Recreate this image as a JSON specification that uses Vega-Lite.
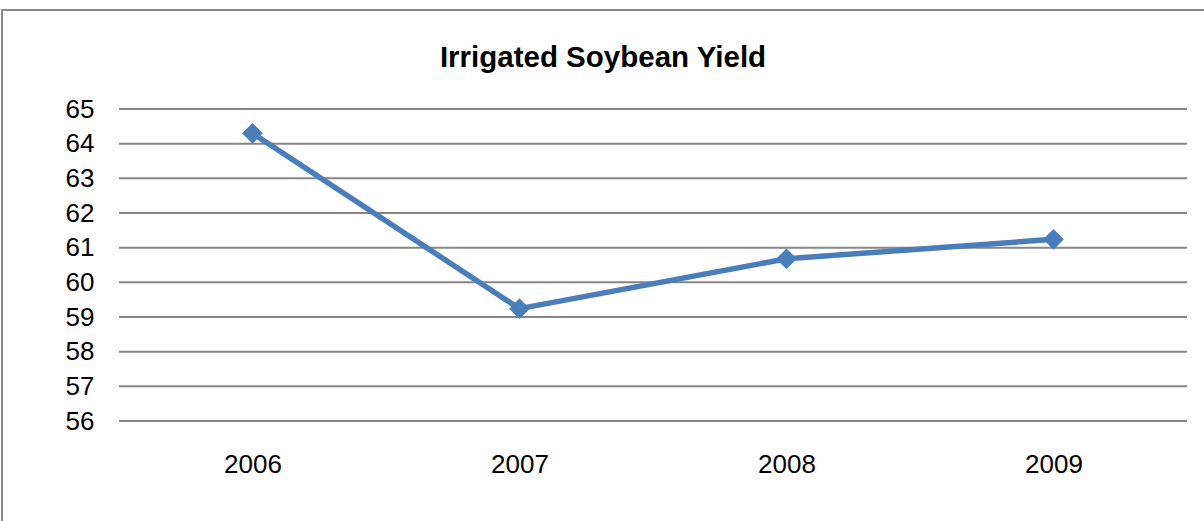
{
  "$schema": "https://vega.github.io/schema/vega-lite/v6.json",
  "width": 1212,
  "height": 520,
  "autosize": {"type": "none"},
  "padding": {"left": 2, "top": 10, "right": 0, "bottom": 0},
  "background": "white",
  "config": {
    "view": {"stroke": "#898989", "strokeWidth": 2},
    "font": "Liberation Sans"
  },
  "title": {
    "text": "Irrigated Soybean Yield",
    "font": "Liberation Sans",
    "fontSize": 29.5,
    "fontWeight": "bold",
    "color": "#000000",
    "anchor": "middle",
    "baseline": "alphabetic",
    "offset": -86,
    "dx": -5
  },
  "datasets": {
    "yield": [
      {"year": "2006", "value": 64.3},
      {"year": "2007", "value": 59.24},
      {"year": "2008", "value": 60.68},
      {"year": "2009", "value": 61.24}
    ],
    "grid": [
      {"g": 56}, {"g": 57}, {"g": 58}, {"g": 59}, {"g": 60},
      {"g": 61}, {"g": 62}, {"g": 63}, {"g": 64}, {"g": 65}
    ]
  },
  "resolve": {"scale": {"x": "independent"}, "axis": {"x": "independent"}},
  "layer": [
    {
      "data": {"name": "grid"},
      "mark": {"type": "rule", "color": "#868686", "strokeWidth": 2},
      "encoding": {
        "x": {"datum": 0, "type": "quantitative", "scale": {"domain": [0, 1], "range": [117, 1185]}, "axis": null},
        "x2": {"datum": 1},
        "y": {
          "field": "g", "type": "quantitative",
          "scale": {"domain": [56, 65], "range": [411, 99], "zero": false, "nice": false},
          "axis": {
            "values": [56, 57, 58, 59, 60, 61, 62, 63, 64, 65],
            "format": "d",
            "title": null, "grid": false, "domain": false, "ticks": false, "tickSize": 0,
            "labelFontSize": 26, "labelColor": "#000000", "labelPadding": 25,
            "labelFont": "Liberation Sans", "offset": -117
          }
        }
      }
    },
    {
      "data": {"name": "yield"},
      "mark": {"type": "line", "color": "#4A7EBB", "strokeWidth": 5.5, "point": {"shape": "diamond", "size": 430, "filled": true, "color": "#4A7EBB", "opacity": 1}},
      "encoding": {
        "x": {
          "field": "year", "type": "ordinal",
          "scale": {"type": "point", "range": [117, 1185], "padding": 0.5},
          "axis": {
            "title": null, "grid": false, "domain": false, "ticks": false, "tickSize": 0,
            "labelAngle": 0, "labelFontSize": 26, "labelColor": "#000000", "labelPadding": 30,
            "labelFont": "Liberation Sans", "labelBaseline": "top", "offset": -109
          }
        },
        "y": {
          "field": "value", "type": "quantitative",
          "scale": {"domain": [56, 65], "range": [411, 99], "zero": false, "nice": false}
        }
      }
    }
  ]
}
